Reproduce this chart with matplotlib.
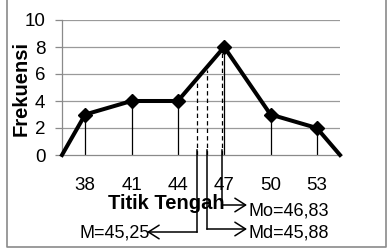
import matplotlib
matplotlib.use("Agg")
import matplotlib.pyplot as plt
from matplotlib.transforms import blended_transform_factory

# ---- data ----
midpoints = [38, 41, 44, 47, 50, 53]
frequencies = [3, 4, 4, 8, 3, 2]
lower_end = 36.5
upper_end = 54.5
mean_val = 45.25
median_val = 45.88
mode_val = 46.83
y_ticks = [0, 2, 4, 6, 8, 10]

plt.rcParams['font.family'] = ['Liberation Sans', 'DejaVu Sans']

W, H = 392, 248
fig = plt.figure(figsize=(W / 100, H / 100), dpi=100)

def fx(px):
    return px / W

def fy(py):
    return 1 - py / H

ax = fig.add_axes([fx(62), fy(155), fx(340) - fx(62), fy(20) - fy(155)])

poly_x = [lower_end] + midpoints + [upper_end]
poly_y = [0] + frequencies + [0]

ax.set_xlim(lower_end, upper_end)
ax.set_ylim(0, 10)

# gridlines
for v in y_ticks[1:]:
    ax.axhline(v, color='#9a9a9a', lw=0.9, zorder=1)

# drop lines
ax.vlines(midpoints, 0, frequencies, colors='black', lw=0.9, zorder=2)

# dashed lines for mean, median, mode up to polygon
def poly_at(x):
    for i in range(len(poly_x) - 1):
        if poly_x[i] <= x <= poly_x[i + 1]:
            t = (x - poly_x[i]) / (poly_x[i + 1] - poly_x[i])
            return poly_y[i] + t * (poly_y[i + 1] - poly_y[i])
    return 0

for v in (mean_val, median_val, mode_val):
    ax.plot([v, v], [0, poly_at(v) - 0.2], color='black', lw=0.9,
            linestyle=(0, (3.5, 2.5)), zorder=2)

# main polygon
ax.plot(poly_x, poly_y, color='black', lw=2.9, zorder=3, clip_on=False,
        solid_joinstyle='miter')
ax.plot(midpoints, frequencies, linestyle='none', marker='D', markersize=7,
        color='black', zorder=4, clip_on=False)

# axes styling
for s in ('top', 'right'):
    ax.spines[s].set_visible(False)
ax.spines['left'].set_color('#8a8a8a')
ax.spines['bottom'].set_color('#8a8a8a')
ax.spines['left'].set_linewidth(0.9)
ax.spines['bottom'].set_linewidth(0.9)
ax.set_yticks(y_ticks)
ax.set_yticklabels([str(v) for v in y_ticks], fontsize=13.5)
ax.tick_params(axis='y', length=5, width=0.9, color='#8a8a8a', pad=7)
ax.set_xticks(midpoints)
ax.set_xticklabels([str(v) for v in midpoints], fontsize=13.5)
ax.tick_params(axis='x', length=0, pad=16)

# axis titles
fig.text(fx(21), fy(88), 'Frekuensi', rotation=90, ha='center', va='center',
         fontsize=14.5, fontweight='bold')
fig.text(fx(166), fy(209), 'Titik Tengah', ha='center', va='baseline',
         fontsize=14.5, fontweight='bold')

# annotation lines
blend = blended_transform_factory(ax.transData, fig.transFigure)
ann = [
    (mode_val, 205, 247, 'Mo', 'right', 10),
    (median_val, 229, 247, 'Md', 'right', 8),
    (mean_val, 232, 147, 'M', 'left', 6),
]
for v, ycorner, xtip, name, side, dy in ann:
    ax.plot([v, v], [fy(150), fy(ycorner)], transform=blend, color='black',
            lw=1.1, clip_on=False, zorder=5)
    ax.annotate('', xy=(fx(xtip), fy(ycorner)), xycoords='figure fraction',
                xytext=(v, fy(ycorner)), textcoords=blend,
                arrowprops=dict(arrowstyle='->,head_length=0.55,head_width=0.35',
                                lw=1.1, color='black', shrinkA=0, shrinkB=0,
                                mutation_scale=14))
    label = f"{name}={v:.2f}".replace('.', ',')
    if side == 'right':
        fig.text(fx(249), fy(ycorner + dy), label, ha='left', va='baseline',
                 fontsize=13)
    else:
        fig.text(fx(150), fy(ycorner + dy), label, ha='right', va='baseline',
                 fontsize=13)

# outer border (left, bottom, right)
fig.add_artist(plt.Line2D([fx(6.5), fx(6.5), fx(385.5), fx(385.5)],
                          [1.0, fy(246.5), fy(246.5), 1.0],
                          transform=fig.transFigure, color='#8a8a8a', lw=1.2))

fig.savefig('out.png', dpi=100)
